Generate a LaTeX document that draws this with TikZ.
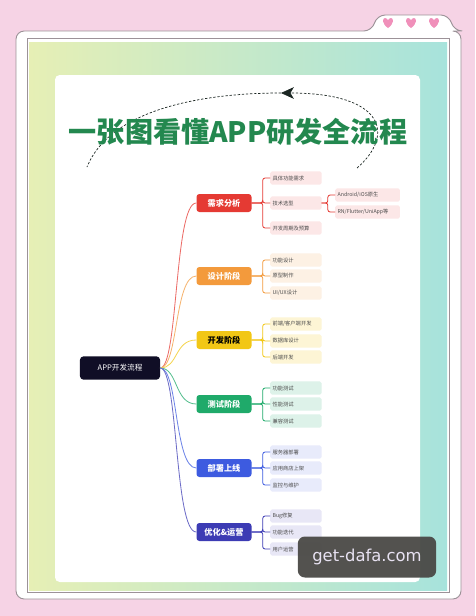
\documentclass[tikz,border=0pt]{standalone}
\usepackage{fontspec}
\setmainfont{Noto Sans CJK SC}
\newfontfamily\markfont{DejaVu Sans}
\definecolor{bg}{HTML}{F6D3E5}
\definecolor{frame}{HTML}{9C9298}
\definecolor{heart}{HTML}{F090BA}
\definecolor{title}{HTML}{23884F}
\definecolor{ink}{HTML}{1B2622}
\definecolor{N}{HTML}{100E26}
\definecolor{R}{HTML}{E53A33}
\definecolor{O}{HTML}{F39A3C}
\definecolor{Y}{HTML}{F2C716}
\definecolor{G}{HTML}{1FAA6A}
\definecolor{B}{HTML}{3D5BE0}
\definecolor{V}{HTML}{3C3BB4}
\definecolor{wm}{HTML}{4A4946}
\definecolor{wmtext}{HTML}{E8E2F2}
\usepackage{tikz}
\usetikzlibrary{arrows.meta}
\tikzstyle{base}=[x=0.03cm, y=-0.03cm]
\tikzstyle{rootbox}=[fill=N, text=white, rounded corners=3pt, minimum width=2.4cm, minimum height=0.7cm, font=\fontsize{6.5}{7}\selectfont]
\tikzstyle{stage}=[rounded corners=2.5pt, text=white, minimum width=1.65cm, minimum height=0.54cm, font=\fontsize{7}{8}\selectfont\bfseries]
\tikzstyle{leaf}=[anchor=west, rounded corners=1.5pt, text=black!70, text width=1.4cm, inner sep=2pt, minimum height=0.4cm, align=left, font=\fontsize{4.5}{5}\selectfont]
\tikzstyle{link}=[line width=0.7pt, line cap=round]

\begin{document}
\begin{tikzpicture}[base]
    \fill [bg] (0,0) rectangle (475,616);
    \useasboundingbox (0,0) rectangle (475,616);
        \draw [frame, fill=white, line width=0.8pt, rounded corners=7pt] (16,31) -- (372,31) -- (377,15) -- (449,15) -- (454,31) -- (461,31) -- (461,599) -- (16,599) -- cycle;
        \foreach \x in {388,411,434}
            \fill [heart, shift={(\x,23)}] (0,5) .. controls (-6,1) and (-6,-5) .. (-3,-5) .. controls (-1.5,-5) and (0,-3.5) .. (0,-2.5) .. controls (0,-3.5) and (1.5,-5) .. (3,-5) .. controls (6,-5) and (6,1) .. (0,5) -- cycle;
        \draw [frame, line width=0.6pt] (27,38) rectangle (449,592);
        \shade [left color={rgb,255:red,230;green,239;blue,181}, middle color={rgb,255:red,238;green,247;blue,238}, right color={rgb,255:red,167;green,227;blue,220}] (29,42) rectangle (447,590);
        \fill [white, rounded corners=4pt] (55,75) rectangle (420,582);

        \coordinate (arcL) at (87,167);
        \coordinate (arcT) at (281,93);
        \coordinate (arcR) at (357,168);
        \draw [ink, line width=0.6pt, dash pattern=on 2pt off 1.5pt, -{Stealth[length=11pt,width=10pt,inset=3pt]}] (arcR) .. controls (395,135) and (385,93) .. (arcT);
        \draw [ink, line width=0.6pt, dash pattern=on 2pt off 1.5pt] (arcT) .. controls (200,93) and (110,110) .. (arcL);

        \node [title, font=\fontsize{24}{26}\selectfont\bfseries] (head) at (238,132) {一张图看懂APP研发全流程};

        \node [rootbox] (app) at (120,368) {APP开发流程};
        \node [stage, fill=R] (req) at (224,203) {需求分析};
        \node [stage, fill=O] (design) at (224,276) {设计阶段};
        \node [stage, fill=Y, text=black] (dev) at (224,340) {开发阶段};
        \node [stage, fill=G] (test) at (224,404) {测试阶段};
        \node [stage, fill=B] (deploy) at (224,468) {部署上线};
        \node [stage, fill=V] (ops) at (224,532) {优化\&运营};

        \node [leaf, fill=R!12] (req1) at (270,178) {具体功能需求};
        \node [leaf, fill=R!12] (req2) at (270,203) {技术选型};
        \node [leaf, fill=R!12] (req3) at (270,228) {开发周期及预算};
        \node [leaf, fill=R!12, text width=1.8cm] (tech1) at (335,195) {Android/iOS原生};
        \node [leaf, fill=R!12, text width=1.8cm] (tech2) at (335,212) {RN/Flutter/UniApp等};

        \node [leaf, fill=O!14] (design1) at (270,260) {功能设计};
        \node [leaf, fill=O!14] (design2) at (270,276) {原型制作};
        \node [leaf, fill=O!14] (design3) at (270,293) {UI/UX设计};

        \node [leaf, fill=Y!18] (dev1) at (270,324) {前端/客户端开发};
        \node [leaf, fill=Y!18] (dev2) at (270,341) {数据库设计};
        \node [leaf, fill=Y!18] (dev3) at (270,357) {后端开发};

        \node [leaf, fill=G!15] (test1) at (270,388) {功能测试};
        \node [leaf, fill=G!15] (test2) at (270,404) {性能测试};
        \node [leaf, fill=G!15] (test3) at (270,421) {兼容测试};

        \node [leaf, fill=B!12] (deploy1) at (270,452) {服务器部署};
        \node [leaf, fill=B!12] (deploy2) at (270,468) {应用商店上架};
        \node [leaf, fill=B!12] (deploy3) at (270,485) {监控与维护};

        \node [leaf, fill=V!12] (ops1) at (270,516) {Bug修复};
        \node [leaf, fill=V!12] (ops2) at (270,532) {功能迭代};
        \node [leaf, fill=V!12] (ops3) at (270,549) {用户运营};

        \foreach \s/\c in {req/R, design/O, dev/Y, test/G, deploy/B, ops/V} {
            \draw [link, \c!75] (app.east) .. controls +(18,0) and +(-22,0) .. (\s.west);
            \foreach \i in {1,2,3}
                \draw [link, \c, rounded corners=2pt] (\s.east) -- ++(11,0) |- (\s\i.west);
        }
        \foreach \i in {1,2}
            \draw [link, R, rounded corners=2pt] (req2.east) -- ++(6,0) |- (tech\i.west);

        \node [fill=wm, fill opacity=0.95, text opacity=1, rounded corners=6pt, minimum width=4.15cm, minimum height=1.23cm, text=wmtext, font=\markfont\fontsize{14}{16}\selectfont] (mark) at (367,557) {get-dafa.com};
    \end{tikzpicture}
\end{document}
